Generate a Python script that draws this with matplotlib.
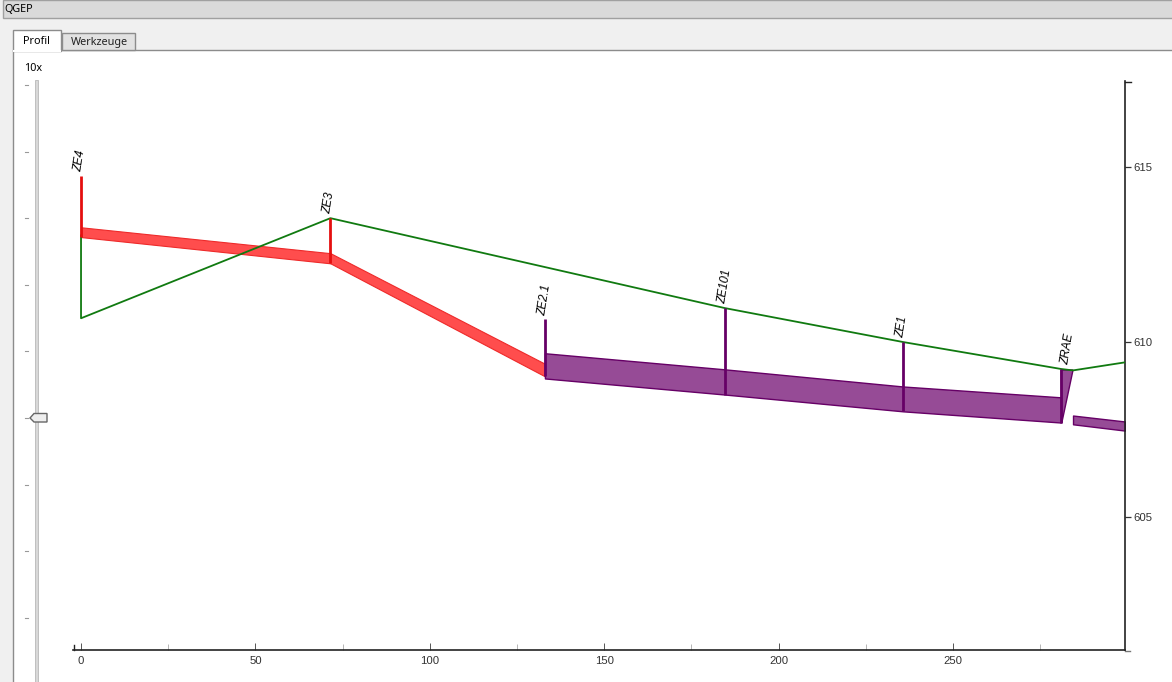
import matplotlib
matplotlib.use("Agg")
import matplotlib.pyplot as plt
from matplotlib.patches import Rectangle, Polygon

W, H = 1172, 682

# terrain line
terrain_x = [0, 0, 71.5, 184.6, 235.7, 281, 284.4, 299.3]
terrain_y = [613.05, 610.68, 613.54, 610.97, 610.0, 609.23, 609.19, 609.42]

# reaches: x, top, bottom
red_x = [[0, 71.5], [71.5, 133]]
red_top = [[613.28, 612.54], [612.54, 609.38]]
red_bottom = [[613.0, 612.25], [612.25, 609.02]]

purple_x = [[133, 184.6, 235.7, 281], [284.4, 299.3]]
purple_top = [[609.68, 609.22, 608.73, 608.42], [607.9, 607.73]]
purple_bottom = [[608.96, 608.5, 608.02, 607.7], [607.65, 607.47]]

# ZRAE wedge
wedge_x = [281, 284.4, 281.2]
wedge_y = [609.2, 609.2, 607.7]

# manholes
node_names = ["ZE4", "ZE3", "ZE2.1", "ZE101", "ZE1", "ZRAE"]
node_x = [0, 71.5, 133, 184.6, 235.7, 281]
node_top = [614.74, 613.54, 610.65, 610.97, 610.0, 609.23]
node_bottom = [613.0, 612.25, 609.02, 608.5, 608.02, 607.7]
node_color = ["#e50f0f", "#e50f0f", "#660066", "#660066", "#660066", "#660066"]
label_x = [0, 71.5, 133, 184.6, 235.7, 283]

x_ticks = [0, 50, 100, 150, 200, 250]
x_minor = [25, 75, 125, 175, 225, 275]
y_ticks = [605, 610, 615]
y_min, y_max = 601.2, 617.46
x_min, x_max = -2.3, 299.3

plt.rcParams["font.family"] = ["Liberation Sans", "DejaVu Sans"]

fig = plt.figure(figsize=(W / 100, H / 100), dpi=100, facecolor="#f0f0f0")

# window chrome, drawn in pixel coordinates
ui = fig.add_axes([0, 0, 1, 1])
ui.set_xlim(0, W)
ui.set_ylim(H, 0)
ui.axis("off")
ui.add_patch(Rectangle((3, 0), W, 18, fc="#dadada", ec="#a0a0a0", lw=1))
ui.add_patch(Rectangle((13, 50), W, H, fc="white", ec="#8c8c8c", lw=1))
ui.add_patch(Rectangle((62, 33), 73, 17, fc="#e2e2e2", ec="#8c8c8c", lw=1))
ui.add_patch(Rectangle((13, 30), 48, 21, fc="white", ec="#8c8c8c", lw=1, zorder=3))
ui.plot([14, 60], [50.5, 50.5], color="white", lw=1.5, zorder=4)
ui.text(4, 10, "QGEP", fontsize=7.8, va="center", family="Noto Sans")
ui.text(23, 41, "Profil", fontsize=7.8, va="center", family="Noto Sans", zorder=5)
ui.text(71, 42, "Werkzeuge", fontsize=7.8, va="center", family="Noto Sans", color="#222222")
ui.text(24, 68.5, "10x", fontsize=7.8, va="center", family="Noto Sans")

# zoom slider
ui.add_patch(Rectangle((35, 80), 3, H, fc="#d8d8d8", ec="#b8b8b8", lw=0.6))
for i in range(9):
    py = 85 + round(66.6 * i)
    ui.plot([24.5, 28], [py, py], color="#999999", lw=0.8)
ui.add_patch(Polygon([(30, 418), (34, 413.5), (47, 413.5), (47, 422), (34, 422)],
                     fc="#eeeeee", ec="#666666", lw=1, zorder=5))

# profile plot
ax = fig.add_axes([73 / W, 1 - 650 / H, (1125 - 73) / W, (650 - 81) / H])
ax.patch.set_alpha(0)
ax.set_xlim(x_min, x_max)
ax.set_ylim(y_min, y_max)

for xs, top, bottom in zip(red_x, red_top, red_bottom):
    ax.fill_between(xs, top, bottom, color="#ff4d4d", ec="#ee2a2a", lw=0.8, zorder=2)
for xs, top, bottom in zip(purple_x, purple_top, purple_bottom):
    ax.fill_between(xs, top, bottom, color="#964b96", ec="#660066", lw=1, zorder=2)
ax.fill(wedge_x, wedge_y, fc="#964b96", ec="#660066", lw=1, zorder=2)

ax.plot(terrain_x, terrain_y, color="#107a10", lw=1.3, zorder=3)

ax.vlines(node_x, node_bottom, node_top, colors=node_color, lw=2, zorder=4)
for name, x, top in zip(node_names, label_x, node_top):
    ax.annotate(name, (x, top), xytext=(-2, 3), textcoords="offset points",
                rotation=81, rotation_mode="anchor", ha="left", va="center",
                style="italic", fontsize=8.5, zorder=5)

ax.spines["top"].set_visible(False)
ax.spines["left"].set_visible(False)
ax.spines["right"].set_color("#222222")
ax.spines["bottom"].set_color("#222222")
ax.spines["right"].set_linewidth(1.2)
ax.spines["bottom"].set_linewidth(1.2)

ax.yaxis.tick_right()
ax.set_yticks(y_ticks)
ax.tick_params(axis="y", direction="out", length=4, width=0.9, color="#333333",
               labelsize=8.2, labelcolor="#333333", pad=2)
ax.set_xticks(x_ticks)
ax.set_xticks(x_minor, minor=True)
ax.tick_params(axis="x", which="major", direction="in", length=5, width=0.7,
               color="#555555", labelsize=8.2, labelcolor="#333333", pad=4)
ax.tick_params(axis="x", which="minor", direction="in", length=4, width=0.6, color="#aaaaaa")

# end caps of the axes
ui.plot([1125, 1131], [81.5, 81.5], color="#222222", lw=1)
ui.plot([73.5, 73.5], [645, 650], color="#222222", lw=1)
ui.plot([1125, 1130], [650.5, 650.5], color="#777777", lw=1)

fig.savefig("out.png", dpi=100, facecolor=fig.get_facecolor())
